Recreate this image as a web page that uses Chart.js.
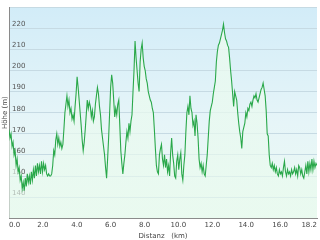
<!DOCTYPE html>
<html>
<head>
<meta charset="utf-8">
<script src="https://cdn.jsdelivr.net/npm/chart.js@4"></script>
<style>
  html, body { margin: 0; padding: 0; background: #fff; }
  #wrap { width: 320px; height: 240px; }
</style>
</head>
<body>
<div id="wrap"><canvas id="profile"></canvas></div>
<script>
// ------------------------------------
// PROFILE DATA (distance km / height m)
// ------------------------------------
const distKm = [
  0.00, 0.06, 0.12, 0.18, 0.24, 0.30, 0.36, 0.42, 0.48, 0.54,
  0.60, 0.66, 0.72, 0.78, 0.84, 0.90, 0.96, 1.02, 1.08, 1.14,
  1.20, 1.26, 1.32, 1.38, 1.44, 1.50, 1.56, 1.62, 1.68, 1.74,
  1.80, 1.86, 1.92, 1.98, 2.04, 2.10, 2.16, 2.22, 2.28, 2.34,
  2.40, 2.46, 2.52, 2.58, 2.64, 2.70, 2.76, 2.82, 2.88, 2.94,
  3.00, 3.06, 3.12, 3.18, 3.24, 3.30, 3.36, 3.42, 3.48, 3.54,
  3.60, 3.66, 3.72, 3.78, 3.84, 3.90, 3.96, 4.02, 4.08, 4.14,
  4.20, 4.26, 4.32, 4.38, 4.44, 4.50, 4.56, 4.62, 4.68, 4.74,
  4.80, 4.86, 4.92, 4.98, 5.04, 5.10, 5.16, 5.22, 5.28, 5.34,
  5.40, 5.46, 5.52, 5.58, 5.64, 5.70, 5.76, 5.82, 5.88, 5.94,
  6.00, 6.06, 6.12, 6.18, 6.24, 6.30, 6.36, 6.42, 6.48, 6.54,
  6.60, 6.66, 6.72, 6.78, 6.84, 6.90, 6.96, 7.02, 7.08, 7.14,
  7.20, 7.26, 7.32, 7.38, 7.44, 7.50, 7.56, 7.62, 7.68, 7.74,
  7.80, 7.86, 7.92, 7.98, 8.04, 8.10, 8.16, 8.22, 8.28, 8.34,
  8.40, 8.46, 8.52, 8.58, 8.64, 8.70, 8.76, 8.82, 8.88, 8.94,
  9.00, 9.06, 9.12, 9.18, 9.24, 9.30, 9.36, 9.42, 9.48, 9.54,
  9.60, 9.66, 9.72, 9.78, 9.84, 9.90, 9.96, 10.02, 10.08, 10.14,
  10.20, 10.26, 10.32, 10.38, 10.44, 10.50, 10.56, 10.62, 10.68, 10.74,
  10.80, 10.86, 10.92, 10.98, 11.04, 11.10, 11.16, 11.22, 11.28, 11.34,
  11.40, 11.46, 11.52, 11.58, 11.64, 11.70, 11.76, 11.82, 11.88, 11.94,
  12.00, 12.06, 12.12, 12.18, 12.24, 12.30, 12.36, 12.42, 12.48, 12.54,
  12.60, 12.66, 12.72, 12.78, 12.84, 12.90, 12.96, 13.02, 13.08, 13.14,
  13.20, 13.26, 13.32, 13.38, 13.44, 13.50, 13.56, 13.62, 13.68, 13.74,
  13.80, 13.86, 13.92, 13.98, 14.04, 14.10, 14.16, 14.22, 14.28, 14.34,
  14.40, 14.46, 14.52, 14.58, 14.64, 14.70, 14.76, 14.82, 14.88, 14.94,
  15.00, 15.06, 15.12, 15.18, 15.24, 15.30, 15.36, 15.42, 15.48, 15.54,
  15.60, 15.66, 15.72, 15.78, 15.84, 15.90, 15.96, 16.02, 16.08, 16.14,
  16.20, 16.26, 16.32, 16.38, 16.44, 16.50, 16.56, 16.62, 16.68, 16.74,
  16.80, 16.86, 16.92, 16.98, 17.04, 17.10, 17.16, 17.22, 17.28, 17.34,
  17.40, 17.46, 17.52, 17.58, 17.64, 17.70, 17.76, 17.82, 17.88, 17.94,
  18.00, 18.06, 18.12, 18.18
];

const heightM = [
  172, 168, 170, 164, 166, 160, 162, 155, 158, 152,
  154, 148, 150, 144, 147, 143, 149, 145, 151, 147,
  150, 146, 152, 148, 153, 149, 155, 150, 156, 152,
  155, 151, 157, 152, 156, 153, 155, 151, 150, 151,
  150, 150, 151, 155, 162, 160, 167, 170, 165, 168,
  164, 166, 163, 165, 172, 180, 184, 188, 183, 186,
  180, 182, 177, 179, 176, 183, 189, 197, 192, 186,
  180, 174, 167, 162, 166, 172, 179, 186, 182, 185,
  183, 178, 181, 176, 178, 184, 188, 192, 189, 183,
  179, 172, 168, 164, 160, 154, 149, 158, 168, 180,
  192, 198, 194, 186, 178, 182, 179, 184, 186, 174,
  162, 156, 151, 156, 160, 166, 171, 168, 175, 171,
  176, 179, 190, 200, 214, 206, 200, 194, 190, 204,
  210, 213, 206, 202, 200, 196, 194, 190, 188, 186,
  185, 182, 180, 172, 163, 155, 152, 151, 160, 163,
  165, 158, 155, 160, 154, 158, 152, 155, 150, 161,
  168, 160, 156, 150, 149, 157, 160, 153, 158, 161,
  151, 148, 155, 160, 171, 180, 183, 179, 188, 182,
  180, 174, 176, 169, 179, 175, 168, 158, 154, 156,
  152, 155, 151, 150, 155, 160, 168, 176, 181, 183,
  185, 189, 192, 195, 204, 209, 212, 213, 215, 217,
  219, 222, 218, 215, 214, 212, 211, 206, 200, 195,
  189, 183, 190, 188, 186, 180, 175, 171, 168, 163,
  171, 173, 175, 180, 178, 182, 181, 184, 185, 183,
  186, 188, 187, 189, 186, 185, 187, 189, 191, 192,
  194, 191, 188, 181, 170, 169, 160, 155, 154, 156,
  153, 155, 152, 154, 151, 150, 153, 151, 152, 150,
  154, 157, 152, 150, 153, 151, 152, 150, 153, 151,
  152, 154, 151, 153, 150, 155, 154, 151, 153, 150,
  149, 152, 155, 151, 157, 152, 156, 153, 158, 153,
  157, 154, 156, 155
];

const xTicks = [0, 2, 4, 6, 8, 10, 12, 14, 16, 18.18];
const yMin = 130;
const yMax = 230;

// ------------------------------------
// CHART AREA BACKGROUND
// ------------------------------------
const areaBg = {
  id: "areaBg",
  beforeDraw(chart) {
    const { ctx, chartArea: a } = chart;
    if (!a) return;
    const g = ctx.createLinearGradient(0, a.top, 0, a.bottom);
    g.addColorStop(0, "#d2ecf8");
    g.addColorStop(0.55, "#e6f5f8");
    g.addColorStop(1, "#ecfaf1");
    ctx.save();
    ctx.fillStyle = g;
    ctx.fillRect(a.left, a.top, a.right - a.left, a.bottom - a.top);
    ctx.restore();
  }
};

function fillGradient(context) {
  const a = context.chart.chartArea;
  if (!a) return "rgba(232,248,238,0.6)";
  const g = context.chart.ctx.createLinearGradient(0, a.top, 0, a.bottom);
  g.addColorStop(0, "rgba(236,250,240,0.85)");
  g.addColorStop(1, "rgba(232,250,238,0.6)");
  return g;
}

const points = distKm.map((d, i) => ({ x: d, y: heightM[i] }));

new Chart(document.getElementById("profile"), {
  type: "line",
  data: {
    datasets: [{
      data: points,
      borderColor: "#2aa84a",
      borderWidth: 1.1,
      pointRadius: 0,
      tension: 0,
      fill: "start",
      backgroundColor: fillGradient
    }]
  },
  options: {
    responsive: true,
    maintainAspectRatio: false,
    animation: false,
    layout: { padding: { top: 2, right: 2, left: 0, bottom: 0 } },
    plugins: {
      legend: { display: false },
      tooltip: { enabled: false }
    },
    scales: {
      x: {
        type: "linear",
        min: 0,
        max: 18.18,
        afterBuildTicks: (axis) => { axis.ticks = xTicks.map(v => ({ value: v })); },
        grid: { display: false, drawTicks: false },
        border: { display: true, color: "#8a8a8a" },
        ticks: {
          align: "inner",
          maxRotation: 0,
          autoSkip: false,
          padding: 3,
          color: "#444",
          font: { family: "DejaVu Sans", size: 7 },
          callback: (v) => Number(v).toFixed(1)
        },
        title: {
          display: true,
          text: "Distanz   (km)",
          color: "#444",
          padding: { top: -1, bottom: 0 },
          font: { family: "DejaVu Sans", size: 7 }
        }
      },
      y: {
        min: yMin,
        max: yMax,
        grid: { color: "#c6dae3", drawTicks: false },
        border: { display: true, color: "#8a8a8a" },
        ticks: {
          stepSize: 10,
          mirror: true,
          padding: 3,
          labelOffset: -4,
          color: "#555",
          font: { family: "DejaVu Sans", size: 7 },
          callback: (v) => (v <= yMin || v >= yMax) ? "" : v
        },
        title: {
          display: true,
          text: "Höhe (m)",
          color: "#444",
          padding: { top: 1, bottom: -5.7 },
          font: { family: "DejaVu Sans", size: 7, lineHeight: 1.1 }
        }
      }
    }
  },
  plugins: [areaBg]
});
</script>
</body>
</html>
